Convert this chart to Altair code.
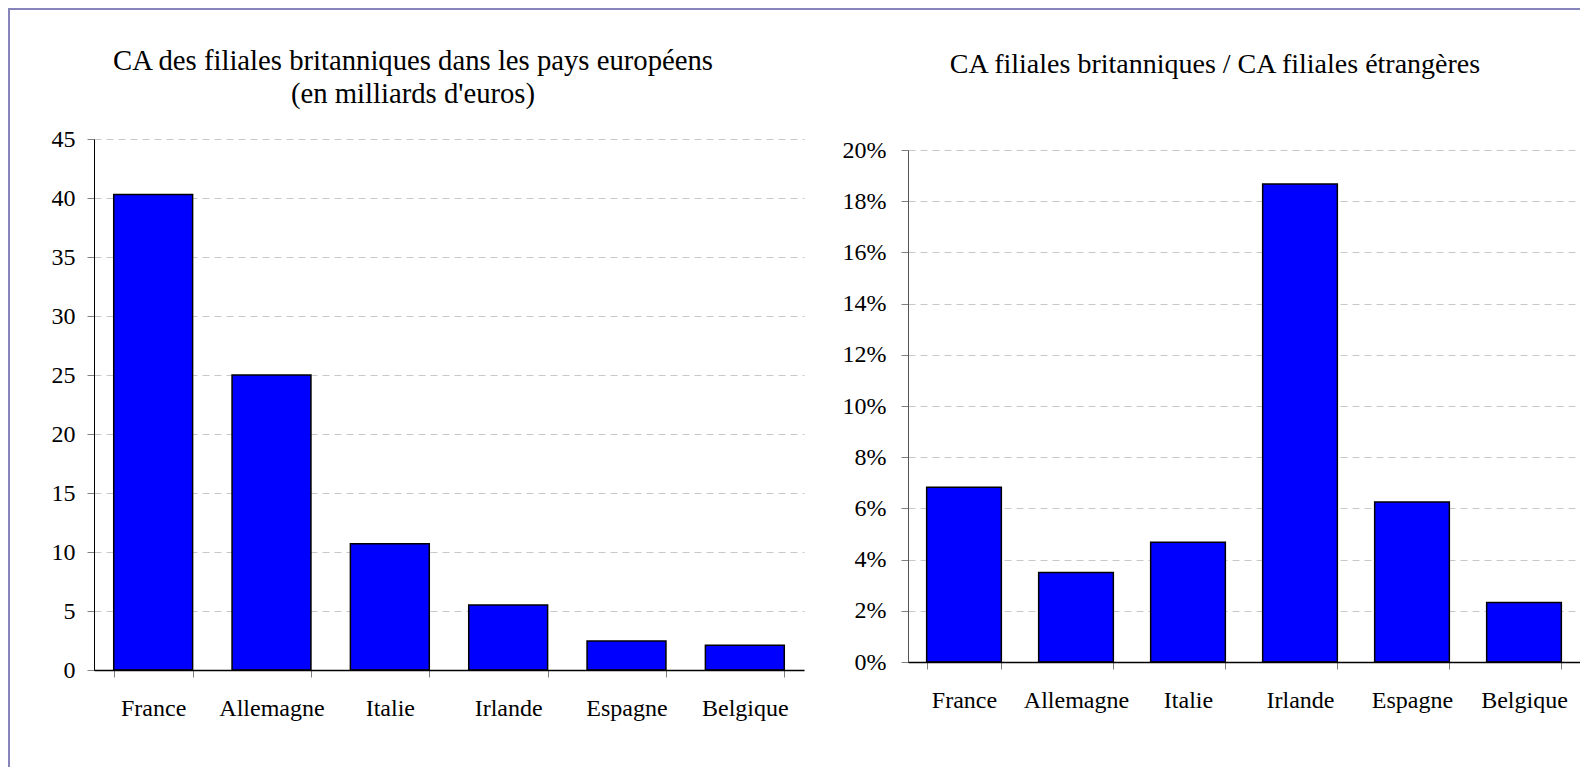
import altair as alt
import pandas as pd

# ---- data ----
countries = ["France", "Allemagne", "Italie", "Irlande", "Espagne", "Belgique"]
ca_values = [40.3, 25.0, 10.7, 5.5, 2.45, 2.1]            # milliards d'euros
share_values = [0.0683, 0.035, 0.0468, 0.1867, 0.0625, 0.0232]  # part
left_ticks = [0, 5, 10, 15, 20, 25, 30, 35, 40, 45]
right_ticks = [0, 0.02, 0.04, 0.06, 0.08, 0.10, 0.12, 0.14, 0.16, 0.18, 0.20]
left_title = ["CA des filiales britanniques dans les pays européens", "(en milliards d'euros)"]
right_title = "CA filiales britanniques / CA filiales étrangères"

FONT = "Liberation Serif"
BORDER = "#8585bb"
BAR = "#0000ff"

df_left = pd.DataFrame({"pays": countries, "ca": ca_values})
df_right = pd.DataFrame({"pays": countries, "part": share_values})
one = pd.DataFrame({"k": [0]})


def x_axis():
    return alt.Axis(title=None, labelAngle=0, labelFont=FONT, labelFontSize=24,
                    labelColor="black", labelPadding=19, tickBand="extent",
                    tickSize=7, tickColor="#808080", tickWidth=1,
                    domainColor="black", domainWidth=1.5, grid=False, zindex=1)


def y_axis(values, fmt=None, pad=12, dom="black"):
    kw = dict(title=None, values=values, labelFont=FONT, labelFontSize=24,
              labelColor="black", labelPadding=pad, tickSize=7, tickColor="#808080",
              domainColor=dom, domainWidth=1, grid=True, gridDash=[7, 5],
              gridColor="#c8c8c8", gridWidth=1)
    if fmt:
        kw["format"] = fmt
    return alt.Axis(**kw)


xscale = alt.Scale(paddingInner=1 / 3, paddingOuter=1 / 6)

LEFT_W, LEFT_H = 710, 531
RIGHT_W, RIGHT_H, RIGHT_TOP = 672, 523, 11
TOP = -131      # frame top edge, relative to the plot tops
GAP = 104       # distance from end of left plot to start of right plot

left_bars = alt.Chart(df_left).mark_bar(fill=BAR, stroke="black", strokeWidth=1.5).encode(
    x=alt.X("pays:N", sort=countries, scale=xscale, axis=x_axis()),
    y=alt.Y("ca:Q", scale=alt.Scale(domain=[0, 45], nice=False), axis=y_axis(left_ticks)),
)

right_bars = alt.Chart(df_right).mark_bar(fill=BAR, stroke="black", strokeWidth=1.5).encode(
    x=alt.X("pays:N", sort=countries, scale=xscale, axis=x_axis()),
    y=alt.Y("part:Q", scale=alt.Scale(domain=[0, 0.2], nice=False, range=[RIGHT_H, RIGHT_TOP]),
            axis=y_axis(right_ticks, fmt=".0%", pad=15, dom="#555555")),
)

# outer frame (left and top edges) drawn as thin filled bands
left_v = alt.Chart(one).mark_rect(fill=BORDER).encode(
    x=alt.value(-86), x2=alt.value(-84), y=alt.value(TOP), y2=alt.value(628))
left_h = alt.Chart(one).mark_rect(fill=BORDER).encode(
    x=alt.value(-86), x2=alt.value(LEFT_W), y=alt.value(TOP), y2=alt.value(TOP + 2))
right_h = alt.Chart(one).mark_rect(fill=BORDER).encode(
    x=alt.value(-GAP), x2=alt.value(RIGHT_W), y=alt.value(TOP), y2=alt.value(TOP + 2))

title_style = dict(font=FONT, fontWeight="normal", color="black",
                   anchor="middle", frame="group", offset=0)

left = alt.layer(left_h, left_v, left_bars).properties(
    width=LEFT_W, height=LEFT_H,
    title=alt.TitleParams(text=left_title, fontSize=28.7, lineHeight=33, dx=-36, dy=101, **title_style),
)
right = alt.layer(right_h, right_bars).properties(
    width=RIGHT_W, height=RIGHT_H,
    title=alt.TitleParams(text=right_title, fontSize=28, dx=-29, dy=71, **title_style),
)

chart = alt.hconcat(left, right, spacing=0).properties(padding=0).configure_view(strokeWidth=0)

chart.save("out.html", embed_options={"renderer": "svg", "actions": False})
